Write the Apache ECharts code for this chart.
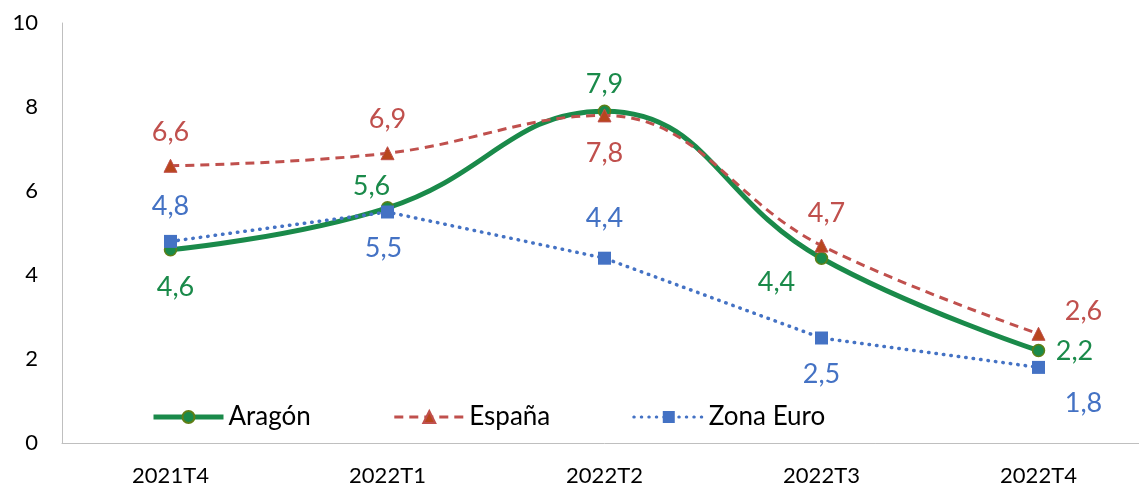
<!DOCTYPE html>
<html>
<head>
<meta charset="utf-8">
<script src="https://cdn.jsdelivr.net/npm/echarts@6/dist/echarts.min.js"></script>
<style>
  html, body { margin: 0; padding: 0; background: #fff; overflow: hidden; }
  /* plot runs slightly past the right edge, like the original */
  #chart { width: 1147px; height: 490px; }
</style>
</head>
<body>
<div id="chart"></div>
<script>
const categories = ['2021T4', '2022T1', '2022T2', '2022T3', '2022T4'];
const aragon = [4.6, 5.6, 7.9, 4.4, 2.2];
const espana = [6.6, 6.9, 7.8, 4.7, 2.6];
const zonaEuro = [4.8, 5.5, 4.4, 2.5, 1.8];
const yTicks = [0, 2, 4, 6, 8, 10];

// where each value label sits relative to its point
const aragonLabelOffsets = [[5, 37], [-16, -22], [0, -27], [-45, 24], [36, 1]];
const espanaLabelOffsets = [[0, -34], [0, -34], [0, 38], [5, -32], [45, -23]];
const zonaLabelOffsets = [[0, -35], [-4, 36], [0, -40], [0, 36], [45, 36]];

const font = 'Lato, "Open Sans", sans-serif';

const fmt = v => String(v).replace('.', ',');

const withLabels = (values, offsets) => values.map((v, i) => ({
  value: v,
  label: { offset: offsets[i] }
}));

const labelStyle = color => ({
  show: true,
  position: 'inside',
  color: color,
  fontFamily: font,
  fontSize: 27,
  formatter: p => fmt(p.value)
});

const chart = echarts.init(document.getElementById('chart'));
const option = {
  backgroundColor: '#fff',
  animation: false,
  grid: { left: 62, right: 0, top: 23, bottom: 47 },
  legend: {
    left: 146,
    top: 399,
    itemWidth: 70,
    itemHeight: 15,
    itemGap: 82,
    textStyle: { fontFamily: font, fontSize: 26, color: '#000' },
    data: [
      { name: 'Aragón', lineStyle: { width: 5 } },
      { name: 'España', lineStyle: { width: 3 } },
      { name: 'Zona Euro', lineStyle: { width: 3 } }
    ]
  },
  xAxis: {
    type: 'category',
    data: categories,
    boundaryGap: true,
    axisLine: { lineStyle: { color: '#BFBFBF', width: 1 } },
    axisTick: { show: false },
    axisLabel: { color: '#000', fontFamily: font, fontSize: 22, margin: 22 }
  },
  yAxis: {
    type: 'value',
    min: yTicks[0],
    max: yTicks[yTicks.length - 1],
    interval: 2,
    axisLine: { show: true, lineStyle: { color: '#BFBFBF', width: 1 } },
    axisTick: { show: false },
    splitLine: { show: false },
    axisLabel: { color: '#000', fontFamily: font, fontSize: 22, margin: 24 }
  },
  series: [
    {
      name: 'España',
      type: 'line',
      smooth: 0.4,
      data: withLabels(espana, espanaLabelOffsets),
      symbol: 'triangle',
      symbolSize: 13,
      lineStyle: { color: '#C0504D', width: 3, type: [9, 6] },
      itemStyle: { color: '#B8461E', borderColor: '#C0504D', borderWidth: 1 },
      label: labelStyle('#C0504D'),
      z: 3
    },
    {
      name: 'Zona Euro',
      type: 'line',
      smooth: false,
      data: withLabels(zonaEuro, zonaLabelOffsets),
      symbol: 'rect',
      symbolSize: 13,
      lineStyle: { color: '#4472C4', width: 3.5, type: [0.5, 7], cap: 'round' },
      itemStyle: { color: '#4472C4', borderColor: '#4472C4', borderWidth: 0 },
      label: labelStyle('#4472C4'),
      z: 4
    },
    {
      name: 'Aragón',
      type: 'line',
      smooth: 0.45,
      data: withLabels(aragon, aragonLabelOffsets),
      symbol: 'circle',
      symbolSize: 12,
      lineStyle: { color: '#1A8A4A', width: 5 },
      itemStyle: { color: '#1A8A4A', borderColor: '#5E7F16', borderWidth: 1.5 },
      label: labelStyle('#1A8A4A'),
      z: 2
    }
  ]
};
chart.setOption(option);
</script>
</body>
</html>
